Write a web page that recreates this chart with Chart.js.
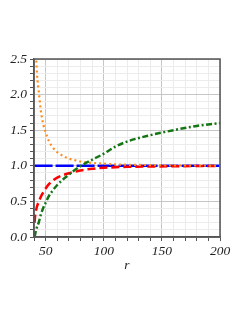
<!DOCTYPE html>
<html>
<head>
<meta charset="utf-8">
<script src="https://cdn.jsdelivr.net/npm/chart.js@4/dist/chart.umd.min.js"></script>
<style>
  html, body { margin: 0; padding: 0; background: #fff; }
  #wrap { width: 249px; height: 323px; }
</style>
</head>
<body>
<div id="wrap"><canvas id="plot"></canvas></div>
<script>
// r values shared by every curve
const r = [40.5, 41, 42, 43, 44, 45, 46, 48, 50, 53, 56, 60, 65, 70, 75, 80, 90, 100, 110, 120, 140, 160, 180, 200];

const red_vals    = [0.2, 0.3, 0.39, 0.45, 0.49, 0.53, 0.57, 0.63, 0.68, 0.745, 0.79, 0.835, 0.87, 0.895, 0.915, 0.935, 0.958, 0.972, 0.98, 0.985, 0.99, 0.994, 0.996, 0.997];
const orange_vals = [2.9, 2.75, 2.45, 2.2, 2.06, 1.9, 1.76, 1.58, 1.47, 1.34, 1.26, 1.19, 1.14, 1.10, 1.08, 1.06, 1.04, 1.03, 1.02, 1.015, 1.01, 1.006, 1.004, 1.003];
const green_vals  = [0.0, 0.04, 0.11, 0.16, 0.2, 0.26, 0.32, 0.41, 0.48, 0.58, 0.65, 0.73, 0.81, 0.875, 0.94, 0.995, 1.085, 1.17, 1.27, 1.34, 1.43, 1.50, 1.56, 1.60];
const blue_vals   = r.map(() => 1.0);

const x_ticks = [50, 100, 150, 200];
const y_ticks = [0.0, 0.5, 1.0, 1.5, 2.0, 2.5];

const pts = (vals) => r.map((x, i) => ({x: x, y: vals[i]}));
const isMajorY = (v) => y_ticks.some(t => Math.abs(t - v) < 1e-6);

const labelFont = {family: "'Liberation Serif', 'DejaVu Serif', serif", size: 13.5, style: 'italic'};

// dark box round the plot area
const frame = {
  id: 'frame',
  afterDraw(chart) {
    const a = chart.chartArea, c = chart.ctx;
    c.save();
    c.strokeStyle = '#555';
    c.lineWidth = 1.5;
    c.strokeRect(a.left, a.top, a.right - a.left, a.bottom - a.top);
    c.restore();
  }
};

const plot_config = {
  type: 'line',
  data: {
    datasets: [{
      label: 'green',
      data: pts(green_vals),
      borderColor: '#157515',
      borderWidth: 2.5,
      borderDash: [6, 2.5, 2, 2.5],
      pointRadius: 0,
      cubicInterpolationMode: 'monotone'
    }, {
      label: 'orange',
      data: pts(orange_vals),
      borderColor: '#ff8c1a',
      borderWidth: 2.2,
      borderDash: [2, 3],
      pointRadius: 0,
      cubicInterpolationMode: 'monotone'
    }, {
      label: 'red',
      data: pts(red_vals),
      borderColor: '#ff0000',
      borderWidth: 2.5,
      borderDash: [8, 4],
      pointRadius: 0,
      cubicInterpolationMode: 'monotone'
    }, {
      label: 'blue',
      data: pts(blue_vals),
      borderColor: '#0000ff',
      borderWidth: 2.5,
      borderDash: [18, 3],
      pointRadius: 0
    }]
  },
  options: {
    responsive: true,
    maintainAspectRatio: false,
    animation: false,
    layout: {padding: {top: 59, right: 29, left: 0, bottom: 46}},
    plugins: {legend: {display: false}, tooltip: {enabled: false}},
    scales: {
      x: {
        type: 'linear',
        min: 40, max: 200,
        afterFit: (s) => { s.height = 40; },
        border: {color: '#555', width: 1.5},
        grid: {
          color: (ctx) => x_ticks.includes(ctx.tick.value) ? '#c6c6c6' : '#ececec',
          tickColor: '#555',
          tickLength: 4
        },
        ticks: {
          stepSize: 10,
          autoSkip: false,
          maxRotation: 0,
          padding: 2,
          color: '#222',
          font: labelFont,
          callback: (v) => x_ticks.includes(v) ? String(v) : ''
        },
        title: {display: true, text: 'r', color: '#222', font: labelFont, padding: {top: 0, bottom: 3}}
      },
      y: {
        min: 0, max: 2.5,
        afterFit: (s) => { s.width = 34; },
        border: {color: '#555', width: 1.5},
        grid: {
          color: (ctx) => isMajorY(ctx.tick.value) ? '#c6c6c6' : '#ececec',
          tickColor: '#555',
          tickLength: 4
        },
        ticks: {
          stepSize: 0.1,
          autoSkip: false,
          padding: 3,
          color: '#222',
          font: labelFont,
          callback: (v) => isMajorY(v) ? v.toFixed(1) : ''
        }
      }
    }
  },
  plugins: [frame]
};

const plot_chart = new Chart(document.getElementById('plot'), plot_config);
</script>
</body>
</html>
